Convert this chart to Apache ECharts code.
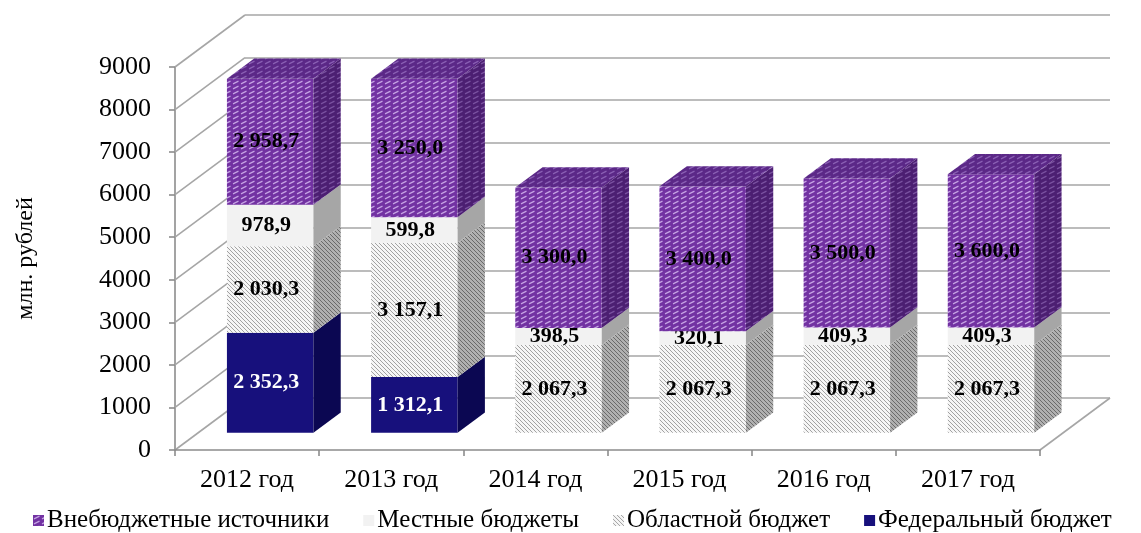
<!DOCTYPE html>
<html>
<head>
<meta charset="utf-8">
<script src="https://cdn.jsdelivr.net/npm/echarts@6/dist/echarts.min.js"></script>
<style>
  html, body { margin: 0; padding: 0; background: #fff; }
  #chart { width: 1141px; height: 533px; }
</style>
</head>
<body>
<div id="chart"></div>
<script>
const years = ['2012 год', '2013 год', '2014 год', '2015 год', '2016 год', '2017 год'];
const federal = [2352.3, 1312.1, 0, 0, 0, 0];
const oblast = [2030.3, 3157.1, 2067.3, 2067.3, 2067.3, 2067.3];
const local = [978.9, 599.8, 398.5, 320.1, 409.3, 409.3];
const offBudget = [2958.7, 3250.0, 3300.0, 3400.0, 3500.0, 3600.0];
const yTicks = [0, 1000, 2000, 3000, 4000, 5000, 6000, 7000, 8000, 9000];

const FONT = '"Liberation Serif", "Times New Roman", serif';
const WALL = [70, -52];     // back wall offset
const FRONT = 0.33;         // bar front depth (part of WALL)
const DEPTH = 0.39;         // bar depth (part of WALL)

// pattern tiles
function pattern(bg, fg, kind) {
    const c = document.createElement('canvas');
    const ctx = c.getContext('2d');
    if (kind === 'dash') {
        c.width = 8; c.height = 5;
        ctx.fillStyle = bg; ctx.fillRect(0, 0, 8, 5);
        ctx.strokeStyle = fg; ctx.lineWidth = 1.3;
        ctx.beginPath(); ctx.moveTo(1, 3.8); ctx.lineTo(6.5, 1.2); ctx.stroke();
    } else if (kind === 'hatch') {
        c.width = 4; c.height = 4;
        ctx.fillStyle = bg; ctx.fillRect(0, 0, 4, 4);
        ctx.strokeStyle = fg; ctx.lineWidth = 1;
        ctx.beginPath();
        ctx.moveTo(-1, -1); ctx.lineTo(5, 5);
        ctx.moveTo(-1, 3); ctx.lineTo(1, 5);
        ctx.moveTo(3, -1); ctx.lineTo(5, 1);
        ctx.stroke();
    }
    return { image: c, repeat: 'repeat' };
}

const looks = {
    'Федеральный бюджет': { front: '#17107c', side: '#0b0752', top: '#100a66', text: '#fff' },
    'Областной бюджет': { front: pattern('#f6f6f6', '#a2a2a2', 'hatch'), side: pattern('#b0b0b0', '#6a6a6a', 'hatch'), top: pattern('#d6d6d6', '#8a8a8a', 'hatch'), text: '#000' },
    'Местные бюджеты': { front: '#f2f2f2', side: '#a6a6a6', top: '#d0d0d0', text: '#000' },
    'Внебюджетные источники': { front: pattern('#7232a2', '#c6a4e4', 'dash'), side: pattern('#4c1f72', '#7a52a0', 'dash'), top: pattern('#5b2887', '#8a60b4', 'dash'), text: '#000' }
};

const stackOrder = [
    ['Федеральный бюджет', federal],
    ['Областной бюджет', oblast],
    ['Местные бюджеты', local],
    ['Внебюджетные источники', offBudget]
];

function fmt(v) {
    const s = v.toFixed(1).replace('.', ',');
    const [a, b] = s.split(',');
    return a.replace(/\B(?=(\d{3})+(?!\d))/g, ' ') + ',' + b;
}

// build stacked segments
const totals = years.map(() => 0);
const segSeries = stackOrder.map(([name, vals], si) => {
    const data = vals.map((v, i) => {
        const base = totals[i];
        totals[i] += v;
        let isTop = 1;
        for (let k = si + 1; k < stackOrder.length; k++) if (stackOrder[k][1][i] > 0) isTop = 0;
        return [i, base, base + v, v, isTop];
    }).filter(d => d[3] > 0);
    const look = looks[name];
    return {
        type: 'custom',
        name: name,
        xAxisIndex: 0, yAxisIndex: 0,
        z: 5,
        itemStyle: { color: look.front },
        encode: { x: 0, y: [1, 2] },
        data: data,
        renderItem: function (params, api) {
            const i = api.value(0);
            const w = api.size([1, 0])[0] * 0.6;
            const fx = WALL[0] * FRONT, fy = WALL[1] * FRONT;
            const dx = WALL[0] * DEPTH, dy = WALL[1] * DEPTH;
            const p0 = api.coord([i, api.value(1)]);
            const p1 = api.coord([i, api.value(2)]);
            const x0 = p0[0] + fx - w / 2, x1 = x0 + w;
            const yb = p0[1] + fy, yt = p1[1] + fy;
            const children = [
                { type: 'rect', shape: { x: x0, y: yt, width: w, height: yb - yt }, style: { fill: look.front } },
                { type: 'polygon', shape: { points: [[x1, yt], [x1 + dx, yt + dy], [x1 + dx, yb + dy], [x1, yb]] }, style: { fill: look.side } }
            ];
            if (api.value(4)) {
                children.push({ type: 'polygon', shape: { points: [[x0, yt], [x0 + dx, yt + dy], [x1 + dx, yt + dy], [x1, yt]] }, style: { fill: look.top } });
            }
            children.push({
                type: 'text', x: x0 + w / 2 - 4, y: (yt + yb) / 2,
                style: { text: fmt(api.value(3)), fill: look.text, fontSize: 22, fontWeight: 'bold', fontFamily: FONT, align: 'center', verticalAlign: 'middle' }
            });
            return { type: 'group', children: children };
        }
    };
});

// left wall diagonals and floor edge
const wallSeries = {
    type: 'custom',
    name: 'wall',
    xAxisIndex: 0, yAxisIndex: 0,
    z: 1, silent: true,
    data: yTicks.map(v => [0, v]),
    encode: { x: 0, y: 1 },
    renderItem: function (params, api) {
        const cs = params.coordSys;
        const y = api.coord([0, api.value(1)])[1];
        const ln = { stroke: '#a6a6a6', lineWidth: 1.6 };
        const children = [{ type: 'line', shape: { x1: cs.x, y1: y, x2: cs.x + WALL[0], y2: y + WALL[1] }, style: ln }];
        if (api.value(1) === 0) {
            children.push({ type: 'line', shape: { x1: cs.x + cs.width, y1: y, x2: cs.x + cs.width + WALL[0], y2: y + WALL[1] }, style: ln });
        }
        return { type: 'group', children: children };
    }
};

const chart = echarts.init(document.getElementById('chart'));
chart.setOption({
    animation: false,
    textStyle: { fontFamily: FONT },
    grid: [
        { left: 175, right: 101, top: 67, bottom: 83 },
        { left: 175 + WALL[0], right: 101 - WALL[0], top: 67 + WALL[1], bottom: 83 - WALL[1] }
    ],
    xAxis: [
        {
            type: 'category', gridIndex: 0, data: years,
            axisLine: { lineStyle: { color: '#8c8c8c', width: 1.6 } },
            axisTick: { show: true, length: 6, lineStyle: { color: '#8c8c8c', width: 1.6 } },
            axisLabel: { color: '#000', fontSize: 26, fontFamily: FONT, margin: 17 },
            z: 6
        },
        { type: 'category', gridIndex: 1, data: years, show: false }
    ],
    yAxis: [
        {
            type: 'value', gridIndex: 0, min: 0, max: 9000, interval: 1000,
            name: 'млн. рублей', nameLocation: 'middle', nameRotate: 90, nameGap: 137,
            nameTextStyle: { color: '#000', fontSize: 24, fontFamily: FONT },
            axisLine: { show: true, lineStyle: { color: '#8c8c8c', width: 1.6 } },
            axisTick: { show: true, length: 6, lineStyle: { color: '#8c8c8c', width: 1.6 } },
            axisLabel: { color: '#000', fontSize: 26, fontFamily: FONT, margin: 24, formatter: v => String(v) },
            splitLine: { show: false }
        },
        {
            type: 'value', gridIndex: 1, min: 0, max: 9000, interval: 1000,
            axisLine: { show: false }, axisTick: { show: false }, axisLabel: { show: false },
            splitLine: { show: true, lineStyle: { color: '#a6a6a6', width: 1.6 } }
        }
    ],
    legend: {
        bottom: -5, left: 28,
        itemWidth: 11, itemHeight: 11, itemGap: 34,
        icon: 'rect',
        textStyle: { color: '#000', fontSize: 25, fontFamily: FONT, padding: [0, 0, 0, -2] },
        data: ['Внебюджетные источники', 'Местные бюджеты', 'Областной бюджет', 'Федеральный бюджет'].map(n => ({
            name: n, itemStyle: { color: looks[n].front, borderWidth: 0 }
        }))
    },
    series: [wallSeries].concat(segSeries)
});
</script>
</body>
</html>
